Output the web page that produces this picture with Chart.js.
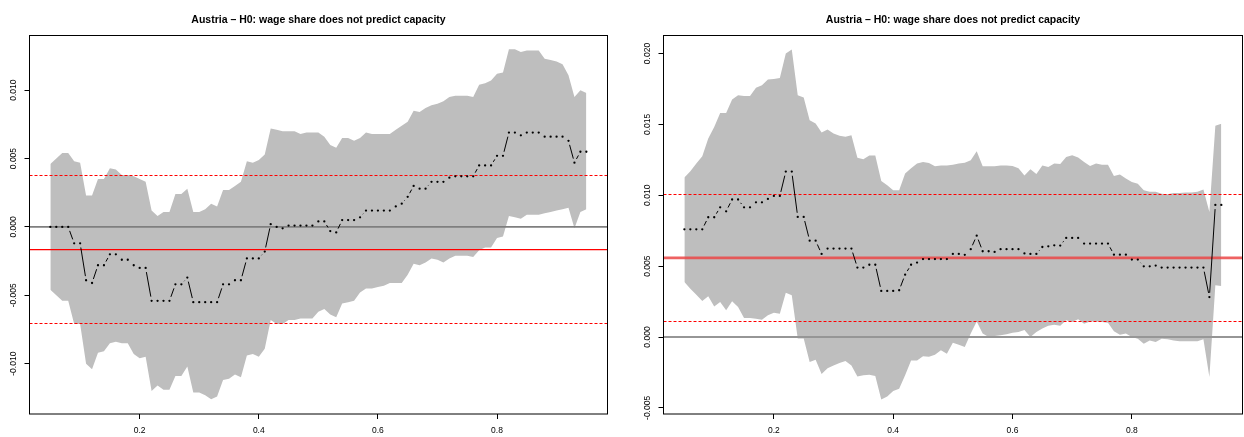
<!DOCTYPE html>
<html><head><meta charset="utf-8">
<script src="https://cdn.jsdelivr.net/npm/chart.js@4.4.1/dist/chart.umd.min.js"></script>
<style>
html,body{margin:0;padding:0;background:#fff;}
#wrap{position:relative;width:1244px;height:437px;overflow:hidden;background:#fff;}
canvas{position:absolute;top:0;}
</style></head><body>
<div id="wrap">
<canvas id="c1" width="637" height="437" style="left:0px;width:637px;height:437px"></canvas>
<canvas id="c2" width="662" height="437" style="left:622px;width:662px;height:437px"></canvas>
</div>
<script>
// ---------- data ----------
const titleText = "Austria \u2013 H0: wage share does not predict capacity";

const quantiles = [0.05,0.06,0.07,0.08,0.09,0.10,0.11,0.12,0.13,0.14,
  0.15,0.16,0.17,0.18,0.19,0.20,0.21,0.22,0.23,0.24,
  0.25,0.26,0.27,0.28,0.29,0.30,0.31,0.32,0.33,0.34,
  0.35,0.36,0.37,0.38,0.39,0.40,0.41,0.42,0.43,0.44,
  0.45,0.46,0.47,0.48,0.49,0.50,0.51,0.52,0.53,0.54,
  0.55,0.56,0.57,0.58,0.59,0.60,0.61,0.62,0.63,0.64,
  0.65,0.66,0.67,0.68,0.69,0.70,0.71,0.72,0.73,0.74,
  0.75,0.76,0.77,0.78,0.79,0.80,0.81,0.82,0.83,0.84,
  0.85,0.86,0.87,0.88,0.89,0.90,0.91,0.92,0.93,0.94,
  0.95];

const xTicks = [0.2, 0.4, 0.6, 0.8];

// left panel
const leftEstimate = [0,0,0,0,-0.0012,-0.0012,-0.0039,-0.0041,-0.0028,-0.0028,
  -0.0020,-0.0020,-0.0024,-0.0024,-0.0028,-0.0030,-0.0030,-0.0054,-0.0054,-0.0054,
  -0.0054,-0.0042,-0.0042,-0.0037,-0.0055,-0.0055,-0.0055,-0.0055,-0.0055,-0.0042,
  -0.0042,-0.0039,-0.0039,-0.0023,-0.0023,-0.0023,-0.0018,0.0002,0.0000,-0.0001,
  0.0001,0.0001,0.0001,0.0001,0.0001,0.0004,0.0004,-0.0003,-0.0004,0.0005,
  0.0005,0.0005,0.0007,0.0012,0.0012,0.0012,0.0012,0.0012,0.0015,0.0017,
  0.0022,0.0030,0.0028,0.0028,0.0033,0.0033,0.0033,0.0036,0.0037,0.0037,
  0.0037,0.0037,0.0045,0.0045,0.0045,0.0052,0.0052,0.0069,0.0069,0.0067,
  0.0069,0.0069,0.0069,0.0066,0.0066,0.0066,0.0066,0.0063,0.0047,0.0055,
  0.0055];
const leftUpper = [0.0046,0.0050,0.0054,0.0054,0.0048,0.0047,0.0023,0.0023,0.0035,0.0035,
  0.0043,0.0042,0.0038,0.0038,0.0037,0.0035,0.0033,0.0012,0.0008,0.0011,
  0.0011,0.0024,0.0024,0.0028,0.0011,0.0011,0.0013,0.0017,0.0015,0.0027,
  0.0027,0.0030,0.0033,0.0048,0.0047,0.0049,0.0053,0.0072,0.0071,0.0070,
  0.0070,0.0070,0.0068,0.0069,0.0069,0.0069,0.0066,0.0060,0.0058,0.0065,
  0.0065,0.0063,0.0065,0.0069,0.0068,0.0068,0.0068,0.0068,0.0071,0.0074,
  0.0077,0.0085,0.0084,0.0087,0.0089,0.0090,0.0092,0.0095,0.0096,0.0096,
  0.0096,0.0095,0.0104,0.0105,0.0107,0.0112,0.0113,0.0130,0.0130,0.0128,
  0.0129,0.0129,0.0129,0.0123,0.0122,0.0121,0.0119,0.0111,0.0095,0.0100,
  0.0098];
const leftLower = [-0.0046,-0.0050,-0.0054,-0.0054,-0.0071,-0.0071,-0.0100,-0.0104,-0.0092,-0.0091,
  -0.0085,-0.0084,-0.0085,-0.0085,-0.0093,-0.0096,-0.0095,-0.0120,-0.0116,-0.0119,
  -0.0119,-0.0109,-0.0109,-0.0102,-0.0121,-0.0121,-0.0123,-0.0126,-0.0124,-0.0112,
  -0.0111,-0.0108,-0.0110,-0.0094,-0.0093,-0.0095,-0.0089,-0.0068,-0.0071,-0.0071,
  -0.0068,-0.0068,-0.0067,-0.0067,-0.0067,-0.0062,-0.0060,-0.0064,-0.0066,-0.0056,
  -0.0055,-0.0054,-0.0048,-0.0045,-0.0045,-0.0044,-0.0043,-0.0041,-0.0041,-0.0041,
  -0.0035,-0.0027,-0.0028,-0.0026,-0.0023,-0.0024,-0.0026,-0.0023,-0.0021,-0.0021,
  -0.0021,-0.0022,-0.0017,-0.0015,-0.0015,-0.0008,-0.0007,0.0008,0.0007,0.0006,
  0.0009,0.0009,0.0009,0.0010,0.0011,0.0012,0.0013,0.0014,-0.0001,0.0011,
  0.0013];
const leftYTicks = [-0.010, -0.005, 0.000, 0.005, 0.010];
const leftZero = 0;
const leftMeanLevel = -0.00166;
const leftBandLevels = [0.00376, -0.00705];

// right panel
const rightEstimate = [0.0076,0.0076,0.0076,0.0076,0.00845,0.00845,0.00915,0.00887,0.0097,0.0097,
  0.00915,0.00915,0.0095,0.0095,0.00974,0.00995,0.00995,0.01167,0.01167,0.00847,
  0.00847,0.0068,0.0068,0.00586,0.00624,0.00624,0.00624,0.00624,0.00624,0.0049,
  0.0049,0.0051,0.0051,0.00325,0.00325,0.00325,0.0033,0.0044,0.0051,0.00525,
  0.0055,0.0055,0.0055,0.0055,0.0055,0.00586,0.00586,0.0058,0.0062,0.00715,
  0.00605,0.00605,0.0060,0.0062,0.0062,0.0062,0.0062,0.0059,0.00586,0.00586,
  0.00635,0.0064,0.00647,0.00645,0.00699,0.00699,0.00699,0.00659,0.00659,0.00659,
  0.00659,0.00659,0.00581,0.00581,0.00581,0.00546,0.00546,0.00499,0.00499,0.00504,
  0.0049,0.0049,0.0049,0.0049,0.0049,0.0049,0.0049,0.0049,0.00282,0.00932,
  0.00932];
const rightUpper = [0.01125,0.0117,0.01224,0.01275,0.0140,0.01482,0.0158,0.0158,0.01675,0.01706,
  0.0170,0.0170,0.01758,0.01776,0.01816,0.0182,0.01828,0.0200,0.02028,0.01706,
  0.0169,0.0153,0.01506,0.01442,0.01464,0.01435,0.0142,0.01412,0.01424,0.01264,
  0.01254,0.0128,0.0128,0.0110,0.0107,0.01035,0.01035,0.01153,0.0119,0.01224,
  0.01235,0.01228,0.01205,0.0121,0.0121,0.01216,0.01224,0.0123,0.01247,0.0131,
  0.01205,0.01205,0.01205,0.0121,0.0121,0.01207,0.0119,0.0114,0.01184,0.0115,
  0.0121,0.0120,0.01224,0.0122,0.0127,0.01282,0.01266,0.01235,0.01207,0.01224,
  0.01216,0.01216,0.01136,0.01146,0.01118,0.01094,0.01082,0.01035,0.01024,0.01024,
  0.0101,0.01007,0.01016,0.01016,0.01019,0.01019,0.01024,0.0104,0.00882,0.0149,
  0.01504];
const rightLower = [0.00388,0.00341,0.00299,0.00254,0.00287,0.00216,0.00247,0.00188,0.00252,0.00212,
  0.00134,0.00134,0.00129,0.00122,0.00153,0.00172,0.00165,0.00313,0.00294,-0.0001,
  -0.0001,-0.00176,-0.0016,-0.0026,-0.0022,-0.0020,-0.00184,-0.0017,-0.0020,-0.00278,
  -0.0027,-0.00266,-0.00275,-0.0044,-0.0042,-0.0038,-0.00365,-0.0027,-0.00165,-0.00165,
  -0.00136,-0.0014,-0.00125,-0.00094,-0.00118,-0.0004,-0.00054,-0.0007,0.00024,0.0011,
  0.00024,0.0,0.00007,0.00012,0.0002,0.0003,0.00035,0.0005,0.0,0.00035,
  0.0006,0.0008,0.00087,0.0008,0.00118,0.00106,0.00125,0.00094,0.0011,0.0011,
  0.00106,0.001,0.0004,0.00016,0.00024,0.0,-0.00012,-0.00047,-0.00024,-0.00035,
  -0.00012,-0.00016,-0.00024,-0.0003,-0.0003,-0.0003,-0.0003,-0.00016,-0.00282,0.00365,
  0.0036];
const rightYTicks = [-0.005, 0.000, 0.005, 0.010, 0.015, 0.020];
const rightZero = 0;
const rightMeanLevel = 0.00558;
const rightBandLevels = [0.01005, 0.0011];

// ---------- rendering ----------
const FONT = "'Liberation Sans', Arial, Helvetica, sans-serif";
const toPts = (vals) => vals.map((v, i) => ({x: quantiles[i], y: v}));

function overlayPlugin(levels) {
  return {
    id: 'rOverlay',
    beforeDatasetDraw(chart, args) {
      if (args.index !== 0) return;
      const {ctx, chartArea: a} = chart;
      const y = chart.scales.y;
      ctx.save();
      ctx.beginPath();
      ctx.rect(a.left, a.top, a.right - a.left, a.bottom - a.top);
      ctx.clip();
      levels.forEach(l => {
        let py = y.getPixelForValue(l.value);
        if (l.snap) py = Math.round(py - 0.5) + 0.5;
        ctx.beginPath();
        ctx.strokeStyle = l.color;
        ctx.lineWidth = l.width;
        ctx.setLineDash(l.dash || []);
        ctx.moveTo(a.left, py);
        ctx.lineTo(a.right, py);
        ctx.stroke();
      });
      ctx.restore();
    },
    afterDatasetDraw(chart, args) {
      if (args.index !== 0) return;
      const ctx = chart.ctx;
      const pts = args.meta.data;
      const gap = 4.2;
      ctx.save();
      ctx.strokeStyle = '#000';
      ctx.lineWidth = 1;
      ctx.setLineDash([]);
      for (let i = 0; i < pts.length - 1; i++) {
        const p0 = pts[i], p1 = pts[i + 1];
        const dx = p1.x - p0.x, dy = p1.y - p0.y;
        const L = Math.hypot(dx, dy);
        if (L <= 2 * gap) continue;
        const ux = dx / L, uy = dy / L;
        ctx.beginPath();
        ctx.moveTo(p0.x + ux * gap, p0.y + uy * gap);
        ctx.lineTo(p1.x - ux * gap, p1.y - uy * gap);
        ctx.stroke();
      }
      ctx.restore();
    },
    afterDraw(chart) {
      const {ctx, chartArea: a} = chart;
      ctx.save();
      ctx.strokeStyle = '#000';
      ctx.lineWidth = 1;
      ctx.strokeRect(a.left, a.top, a.right - a.left, a.bottom - a.top);
      ctx.restore();
    }
  };
}

function makeChart(id, cfg) {
  new Chart(document.getElementById(id), {
    type: 'line',
    data: {
      datasets: [
        {data: toPts(cfg.est), showLine: false, pointRadius: 1.15, pointHoverRadius: 0,
         pointBackgroundColor: '#000', pointBorderWidth: 0, pointBorderColor: '#000'},
        {data: toPts(cfg.up), borderColor: 'rgba(0,0,0,0)', borderWidth: 0, pointRadius: 0,
         tension: 0, fill: '+1', backgroundColor: '#bebebe'},
        {data: toPts(cfg.lo), borderColor: 'rgba(0,0,0,0)', borderWidth: 0, pointRadius: 0,
         tension: 0, fill: false}
      ]
    },
    options: {
      responsive: false,
      animation: false,
      devicePixelRatio: 1,
      events: [],
      layout: {padding: {left: 0, right: 0, top: 0, bottom: 0}},
      plugins: {
        legend: {display: false},
        tooltip: {enabled: false},
        title: {display: true, text: titleText, color: '#000',
                font: {family: FONT, size: 10.5, weight: 'bold', lineHeight: 1.2},
                padding: {top: 13.7, bottom: 9.2}}
      },
      scales: {
        x: {
          type: 'linear', min: 0.015, max: 0.9855,
          afterFit(s) { s.height = 23; },
          afterBuildTicks(s) { s.ticks = xTicks.map(v => ({value: v})); },
          ticks: {color: '#000', font: {family: FONT, size: 8.5}, padding: 7,
                  maxRotation: 0, minRotation: 0, callback: v => Number(v).toFixed(1)},
          grid: {display: true, drawOnChartArea: false, drawTicks: true, tickLength: 5,
                 color: '#000', lineWidth: 1},
          border: {display: false}
        },
        y: {
          type: 'linear', position: 'left', min: cfg.ymin, max: cfg.ymax,
          afterFit(s) { s.width = cfg.axisW; },
          afterBuildTicks(s) { s.ticks = cfg.yTicks.map(v => ({value: v})); },
          ticks: {color: '#000', font: {family: FONT, size: 8.5}, padding: -1.5,
                  minRotation: 90, maxRotation: 90, crossAlign: 'center',
                  callback: v => Number(v).toFixed(3)},
          grid: {display: true, drawOnChartArea: false, drawTicks: true, tickLength: 5,
                 color: '#000', lineWidth: 1},
          border: {display: false}
        },
        yRightSpacer: {
          type: 'linear', position: 'right', min: cfg.ymin, max: cfg.ymax,
          afterFit(s) { s.width = cfg.axisW; },
          ticks: {display: false},
          grid: {display: false},
          border: {display: false}
        }
      }
    },
    plugins: [overlayPlugin(cfg.levels)]
  });
}

makeChart('c1', {
  est: leftEstimate, up: leftUpper, lo: leftLower, yTicks: leftYTicks,
  ymin: -0.01368, ymax: 0.01400, axisW: 29.5,
  levels: [
    {value: leftZero, color: '#7f7f7f', width: 1.7},
    {value: leftMeanLevel, color: '#ff0000', width: 1.4},
    {value: leftBandLevels[0], color: '#ff0000', width: 1, dash: [3, 2], snap: true},
    {value: leftBandLevels[1], color: '#ff0000', width: 1, dash: [3, 2], snap: true}
  ]
});
makeChart('c2', {
  est: rightEstimate, up: rightUpper, lo: rightLower, yTicks: rightYTicks,
  ymin: -0.00543, ymax: 0.02127, axisW: 41.5,
  levels: [
    {value: rightZero, color: '#969696', width: 2},
    {value: rightMeanLevel, color: 'rgba(235,70,70,0.85)', width: 2.6},
    {value: rightBandLevels[0], color: '#ff0000', width: 1, dash: [3, 2], snap: true},
    {value: rightBandLevels[1], color: '#ff0000', width: 1, dash: [3, 2], snap: true}
  ]
});
</script>
</body></html>
